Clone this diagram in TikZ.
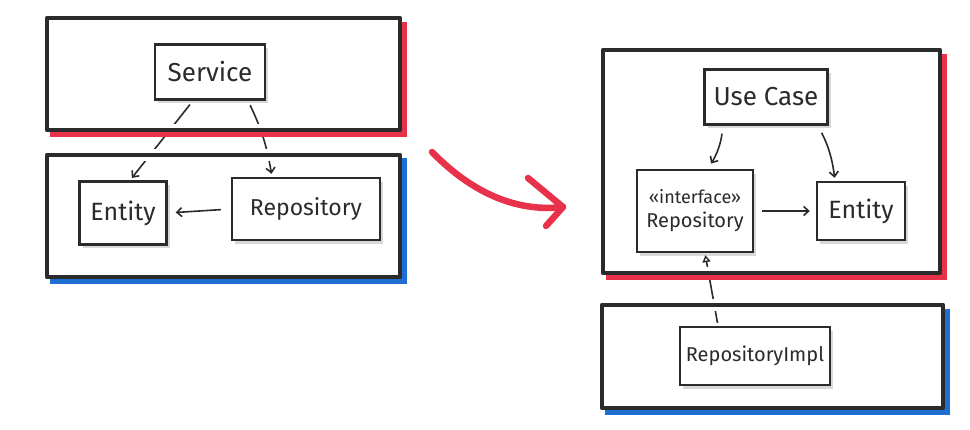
\documentclass[tikz,border=0pt]{standalone}
\usepackage{fontspec}
\setmainfont{Fira Sans}
\usetikzlibrary{arrows.meta,shadows}
\definecolor{ink}{HTML}{2B2B2B}
\definecolor{lred}{HTML}{E8324A}
\definecolor{lblue}{HTML}{1F6FD2}
\newcommand{\fsz}[1]{\fontsize{#1}{#1}\selectfont}
\begin{document}
\begin{tikzpicture}[x=1pt,y=-1pt,
  comp/.style={draw=ink, line width=2.4pt, fill=white, inner sep=0pt, text=ink, align=center,
    general shadow={fill=gray!50, shadow xshift=3pt, shadow yshift=-4pt, opacity=0.6}},
  conn/.style={draw=ink, line width=1.6pt, -{Straight Barb[length=5pt,width=9pt,line width=1.6pt]}, shorten <=5pt, shorten >=3pt},
  realize/.style={draw=ink, line width=1.6pt, -{Triangle[open,length=7pt,width=8pt,line width=1.4pt]}, shorten <=3pt, shorten >=2pt},
  halo/.style={draw=white, line width=12pt},
  border/.style={draw=ink, line width=4.5pt, line join=round},
  redsh/.style={draw=lred, line width=6pt},
  bluesh/.style={draw=lblue, line width=6pt},
  bigarrow/.style={draw=lred, line width=6.5pt, line cap=round, line join=round}]
\useasboundingbox[fill=white] (0,0) rectangle (970,430);

% ---- left diagram ----
\node[comp, minimum width=110pt, minimum height=55pt, font=\fsz{26}] (svc) at (210,72) {Service};
\node[comp, minimum width=87pt, minimum height=63pt, font=\fsz{25}] (ent) at (123,213) {Entity};
\node[comp, minimum width=148pt, minimum height=62pt, font=\fsz{23}] (rep) at (306,209) {Repository};

\draw[conn] ([xshift=-17pt]svc.south) -- ([xshift=7pt]ent.north);
\draw[conn] ([xshift=38pt]svc.south) to[bend left=8] ([xshift=-34pt]rep.north);
\draw[conn, shorten <=10pt, shorten >=8pt] (rep.west) -- (ent.east);

% ---- right diagram ----
\node[comp, minimum width=123pt, minimum height=55pt, font=\fsz{26}] (uc) at (766,97) {Use Case};
\node[comp, minimum width=116pt, minimum height=82pt, font=\fsz{20}] (ri) at (695,211)
  {{\fsz{18}«interface»}\\[4pt]Repository};
\node[comp, minimum width=88pt, minimum height=58pt, font=\fsz{25}] (re) at (861,211) {Entity};
\node[comp, minimum width=150pt, minimum height=58pt, font=\fsz{20}] (rimpl) at (755,356) {RepositoryImpl};

\draw[conn, shorten <=8pt, shorten >=6pt] ([xshift=-43pt]uc.south) to[bend left=12] ([xshift=13pt]ri.north);
\draw[conn, shorten <=8pt, shorten >=3pt] ([xshift=52pt]uc.south) to[bend left=10] ([xshift=-26pt]re.north);
\draw[conn, shorten <=8pt, shorten >=6pt] (ri.east |- re.west) -- (re.west);
\draw[realize] ([xshift=-37pt]rimpl.north) -- ([xshift=10pt]ri.south);

% ---- layer borders (drawn over the connectors) ----
\draw[halo] (47,18) rectangle (400,130);
\draw[redsh] (404,22) -- (404,134) -- (50,134);
\draw[border] (47,18) rectangle (400,130);

\draw[halo] (47,155) rectangle (400,277);
\draw[bluesh] (404,158) -- (404,281) -- (50,281);
\draw[border] (47,155) rectangle (400,277);

\draw[halo] (603,50) rectangle (940,273);
\draw[redsh] (944,54) -- (944,277) -- (606,277);
\draw[border] (603,50) rectangle (940,273);

\draw[halo] (602,305) rectangle (943,408);
\draw[bluesh] (947,309) -- (947,412) -- (605,412);
\draw[border] (602,305) rectangle (943,408);

% ---- transformation arrow ----
\coordinate (ta) at (432,152);
\coordinate (tb) at (563,207);
\draw[bigarrow] (ta) .. controls (475,196) and (520,212) .. (tb);
\draw[bigarrow] (528,178) -- (tb) -- (546,226);
\end{tikzpicture}
\end{document}
